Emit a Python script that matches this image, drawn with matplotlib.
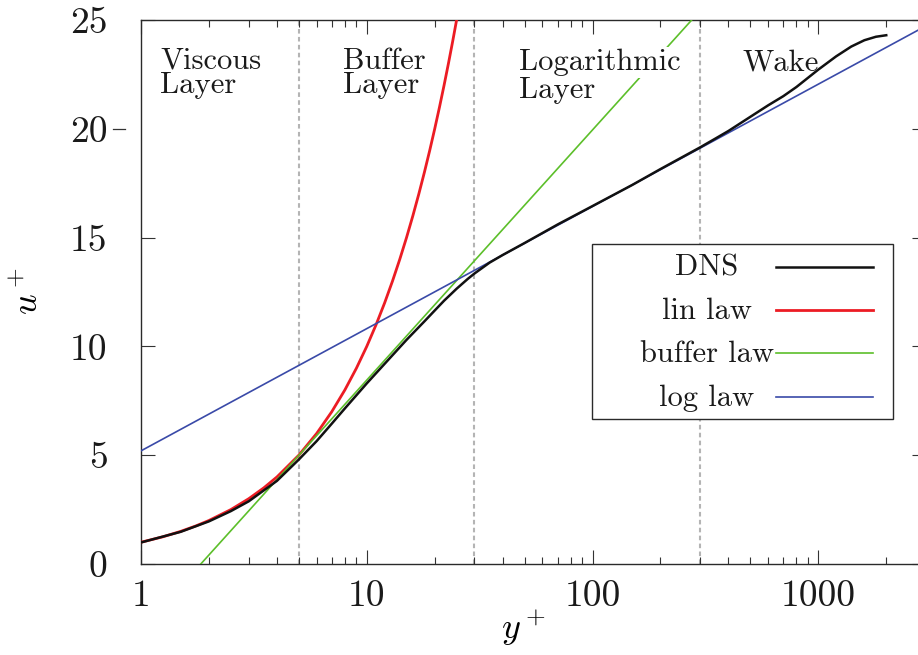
import matplotlib
matplotlib.use("Agg")
import matplotlib.pyplot as plt
from matplotlib.patches import Rectangle
from matplotlib.lines import Line2D
from matplotlib.ticker import FixedLocator, NullFormatter
import matplotlib.transforms as mtransforms

plt.rcParams["font.family"] = "cmr10"
plt.rcParams["mathtext.fontset"] = "cm"
plt.rcParams["axes.unicode_minus"] = False

# --- profile data ---
# DNS mean velocity profile
dns_y = [1, 1.5, 2, 2.5, 3, 4, 5, 6, 7, 8, 10, 12, 15, 18, 20, 22, 25, 28, 30,
         35, 40, 50, 70, 100, 150, 200, 300, 350, 400, 500, 600, 700, 800, 1000,
         1200, 1400, 1600, 1800, 2000]
dns_u = [0.99, 1.48, 1.96, 2.43, 2.88, 3.82, 4.8, 5.65, 6.45, 7.15, 8.3, 9.2,
         10.3, 11.15, 11.65, 12.1, 12.65, 13.1, 13.35, 13.85, 14.2, 14.75, 15.6,
         16.45, 17.42, 18.15, 19.15, 19.55, 19.9, 20.55, 21.08, 21.5, 21.92,
         22.72, 23.33, 23.78, 24.07, 24.23, 24.3]

# viscous sublayer u+ = y+
lin_y = [1, 1.25, 1.5, 1.75, 2, 2.5, 3, 3.5, 4, 5, 6, 7, 8, 9, 10, 11, 12, 13,
         14, 15, 16, 17, 18, 19, 20, 21, 22, 23, 24, 25, 26]
lin_u = lin_y

# buffer and log laws are straight on the semi-log axes: end points only
buffer_y = [1.84, 275]
buffer_u = [0.0, 25.0]
log_y = [1, 3000]
log_u = [5.2, 24.73]

region_bounds = [5, 30, 300]
legend_labels = ["DNS", "lin law", "buffer law", "log law"]

C_DNS = "#111111"
C_LIN = "#ec1c24"
C_BUF = "#5cbf2a"
C_LOG = "#3a4aa8"

fig = plt.figure(figsize=(9.18, 6.55), dpi=100)
ax = fig.add_axes([141 / 918, 91 / 655, 785 / 918, 544 / 655])

for b in region_bounds:
    ax.axvline(b, color="#b4b4b4", lw=1.5, ls=(0, (2.2, 1.6)), zorder=1)

l_lin, = ax.plot(lin_y, lin_u, color=C_LIN, lw=2.0, zorder=3)
l_buf, = ax.plot(buffer_y, buffer_u, color=C_BUF, lw=1.2, zorder=3)
l_log, = ax.plot(log_y, log_u, color=C_LOG, lw=1.2, zorder=3)
l_dns, = ax.plot(dns_y, dns_u, color=C_DNS, lw=1.8, zorder=4)

ax.set_xscale("log")
ax.set_xlim(1, 3000)
ax.set_ylim(0, 25)

# ticks, gnuplot style: inward and mirrored
ax.xaxis.set_major_locator(FixedLocator([1, 10, 100, 1000]))
ax.xaxis.set_minor_locator(FixedLocator(
    [m * 10 ** d for d in range(4) for m in range(2, 10) if m * 10 ** d < 3000]))
ax.xaxis.set_minor_formatter(NullFormatter())
ax.set_xticklabels(["1", "10", "100", "1000"])
ax.set_yticks([0, 5, 10, 15, 20, 25])
ax.set_yticklabels(["0", "5", "10", "15", "20", "25"])
ax.tick_params(which="both", direction="in", top=True, right=True,
               color="#333333", width=0.8)
ax.tick_params(which="major", length=10)
ax.tick_params(which="minor", length=5)
ax.tick_params(axis="y", labelsize=27, pad=24)
ax.tick_params(axis="x", labelsize=27, pad=11)
for lab in ax.get_xticklabels() + ax.get_yticklabels():
    lab.set_color("#1a1a1a")

# the left tick at 20 sits outside the frame
ax.yaxis.get_major_ticks()[4].tick1line.set_visible(False)
trans = mtransforms.blended_transform_factory(ax.transAxes, ax.transData)
ax.plot([-0.036, -0.02], [20, 20], color="#333333", lw=0.9,
        transform=trans, clip_on=False)

for s in ax.spines.values():
    s.set_color("#2a2a2a")
    s.set_linewidth(1.0)

# region names
txt_kw = dict(fontsize=22, color="#1a1a1a", va="baseline", ha="left", zorder=5)
ax.text(1.214, 22.75, "Viscous", **txt_kw)
ax.text(1.214, 21.66, "Layer", **txt_kw)
ax.text(7.85, 22.75, "Buffer", **txt_kw)
ax.text(7.85, 21.66, "Layer", **txt_kw)
ax.text(47.3, 22.7, "Logarithmic",
        bbox=dict(boxstyle="square,pad=0.05", fc="white", ec="none"), **txt_kw)
ax.text(47.3, 21.42, "Layer", **txt_kw)
ax.text(460, 22.7, "Wake", **txt_kw)

# key box
ax.add_patch(Rectangle((0.5745, 0.2665), 0.3835, 0.3215, transform=ax.transAxes,
                       fc="white", ec="#2a2a2a", lw=1.0, zorder=6))
rows_y = [0.546, 0.467, 0.388, 0.307]
for lab, line, ry in zip(legend_labels, [l_dns, l_lin, l_buf, l_log], rows_y):
    ax.text(0.721, ry - 0.0165, lab, transform=ax.transAxes, fontsize=22,
            ha="center", va="baseline", color="#1a1a1a", zorder=7)
    ax.add_line(Line2D([0.809, 0.9325], [ry, ry], transform=ax.transAxes,
                       color=line.get_color(), lw=line.get_linewidth(), zorder=7))

fig.text(0.031, 0.555, "$u^+$", fontsize=26, rotation=90, ha="center", va="center")
fig.text(0.57, 0.041, "$y^+$", fontsize=26, ha="center", va="center")

fig.savefig("out.png", dpi=100)
